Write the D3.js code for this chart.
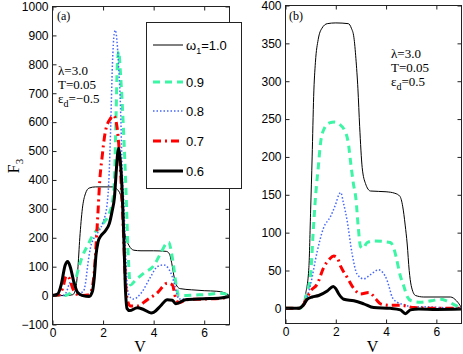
<!DOCTYPE html>
<html>
<head>
<meta charset="utf-8">
<script src="https://cdn.jsdelivr.net/npm/d3@7"></script>
<style>
body { margin: 0; background: #fff; }
svg { display: block; }
.axis text { font-family: "Liberation Sans", Arial, sans-serif; font-size: 12px; fill: #000; }
.axis line { stroke: #222; }
.serif { font-family: "Liberation Serif", "Times New Roman", serif; }
</style>
</head>
<body>
<svg width="463" height="354"></svg>
<script>
// curves, [V, F3]
var omegas = ["1.0", "0.9", "0.8", "0.7", "0.6"];

// panel (a), eps_d = -0.5
var a10 = [[0,0],[0.5,0],[0.8,3],[0.92,25],[1.0,90],[1.08,200],[1.18,300],[1.3,352],[1.45,372],[1.7,376],[2.4,376],[2.55,368],[2.68,350],[2.76,300],[2.82,236],[2.9,200],[3.02,174],[3.22,157],[3.5,155],[4.0,155],[4.5,153],[4.62,145],[4.72,110],[4.82,60],[4.92,33],[5.05,24],[5.5,20],[6.0,17],[6.5,15],[6.8,10],[7,0]];
var a09 = [[0,0],[0.5,0],[0.6,3],[0.75,15],[0.9,50],[1.05,100],[1.2,140],[1.4,175],[1.6,210],[1.85,235],[2.05,255],[2.25,285],[2.38,330],[2.45,400],[2.52,650],[2.56,790],[2.62,845],[2.68,780],[2.76,660],[2.83,530],[2.89,400],[2.93,300],[3.0,130],[3.08,37],[3.3,55],[3.6,77],[4.0,103],[4.3,150],[4.5,180],[4.6,185],[4.7,150],[4.8,95],[4.9,30],[5.0,0],[5.2,0],[5.6,2],[6.1,4],[6.6,8],[6.85,5],[7,-3]];
var a08 = [[0,0],[0.4,0],[0.55,12],[0.7,45],[0.8,40],[0.95,15],[1.1,10],[1.22,14],[1.3,40],[1.4,110],[1.5,165],[1.65,200],[1.85,225],[2.0,255],[2.16,316],[2.24,420],[2.3,580],[2.37,800],[2.44,905],[2.49,918],[2.55,880],[2.62,783],[2.69,650],[2.75,450],[2.82,320],[2.9,130],[2.97,20],[3.1,-8],[3.2,-12],[3.5,8],[3.85,60],[4.15,100],[4.4,106],[4.6,92],[4.72,70],[4.82,40],[4.92,5],[5.0,-12],[5.5,-12],[6.0,-10],[6.5,-9],[7,-5]];
var a07 = [[0,0],[0.25,2],[0.4,25],[0.55,68],[0.65,62],[0.8,25],[0.95,5],[1.2,0],[1.45,3],[1.55,20],[1.65,80],[1.72,170],[1.8,290],[1.87,400],[1.95,470],[2.09,567],[2.29,612],[2.42,623],[2.56,578],[2.64,500],[2.72,380],[2.8,230],[2.88,60],[2.96,-15],[3.08,-36],[3.35,-36],[3.75,-14],[4.14,9],[4.54,43],[4.74,37],[4.87,-8],[5.0,-25],[5.33,-14],[6,-12],[6.6,-10],[7,-5]];
var a06 = [[0,0],[0.2,5],[0.35,40],[0.5,105],[0.6,118],[0.7,100],[0.85,45],[1.0,10],[1.2,0],[1.45,-3],[1.58,15],[1.65,60],[1.72,140],[1.8,185],[1.9,205],[2.1,225],[2.25,250],[2.36,293],[2.45,340],[2.53,441],[2.58,495],[2.62,510],[2.67,475],[2.72,420],[2.77,330],[2.82,202],[2.88,32],[2.95,-45],[3.05,-52],[3.35,-42],[3.6,-48],[3.9,-60],[4.0,-58],[4.27,-36],[4.54,-14],[4.74,-16],[4.87,-28],[5.0,-25],[5.26,-14],[6,-11],[6.65,-8],[7,-3]];

// panel (b), eps_d = 0.5
var b10 = [[0,0],[0.5,0],[0.65,3],[0.8,19],[0.93,54],[1.0,130],[1.06,200],[1.12,280],[1.19,325],[1.3,355],[1.45,370],[1.66,376],[2.0,377],[2.5,376],[2.62,370],[2.72,358],[2.8,330],[2.88,290],[2.95,240],[3.05,186],[3.18,165],[3.38,155],[4.0,154],[4.35,152],[4.55,148],[4.66,135],[4.76,110],[4.84,85],[4.92,50],[5.0,30],[5.17,17],[5.5,15],[6.56,15],[6.8,10],[7,1]];
var b09 = [[0,0],[0.55,0],[0.7,5],[0.85,20],[1.0,45],[1.1,100],[1.2,150],[1.3,185],[1.4,220],[1.55,238],[1.75,245],[1.95,246],[2.15,243],[2.35,235],[2.5,218],[2.6,190],[2.7,165],[2.8,145],[2.9,105],[2.98,82],[3.07,79],[3.25,87],[3.5,89],[4.17,87],[4.3,80],[4.4,68],[4.55,45],[4.7,30],[4.85,15],[5.0,10],[5.37,8],[5.8,10],[6.16,12],[6.4,10],[6.7,5],[7,0]];
var b08 = [[0,0],[0.55,0],[0.7,5],[0.86,15],[1.0,32],[1.26,75],[1.5,105],[1.8,122],[2.0,138],[2.12,150],[2.2,153],[2.3,140],[2.45,116],[2.65,72],[2.85,45],[3.11,39],[3.4,45],[3.7,51],[3.85,48],[4.04,37],[4.15,25],[4.24,15],[4.45,8],[4.71,5],[5.0,2],[5.6,2],[6.2,1],[7,0]];
var b07 = [[0,0],[0.55,0],[0.7,4],[0.8,10],[1.0,23],[1.26,32],[1.52,54],[1.75,65],[1.92,69],[2.05,67],[2.2,55],[2.45,41],[2.72,26],[2.98,19],[3.31,21],[3.45,18],[3.6,12],[3.78,6],[4.17,4],[4.6,4],[5.1,1],[6,0],[7,0]];
var b06 = [[0,0],[0.5,0],[0.6,1],[0.75,6],[0.86,12],[1.06,15],[1.32,17],[1.66,23],[1.9,29],[2.0,26],[2.12,19],[2.32,12],[2.72,10],[3.11,6],[3.51,1],[4.17,0],[4.57,-2],[4.77,-7],[4.97,-2],[5.3,-1],[6,-1.5],[7,-1]];

var xTicks = [0, 2, 4, 6];
var yTicksA = d3.range(-100, 1001, 100);
var yTicksB = d3.range(0, 401, 50);

var colors = ["#000000", "#3cf5a5", "#4466ff", "#ff0000", "#000000"];
var widths = [1, 3, 1.5, 3, 3];
var dashes = [null, "7,5", "1.5,2", "8,4,2,4", null];

var svg = d3.select("svg");
var fmt = d3.format("d");

function panel(box, yMin, yMax, yTicks, data, tag) {
  var x = d3.scaleLinear().domain([0, 7]).range([box.left, box.right]);
  var y = d3.scaleLinear().domain([yMin, yMax]).range([box.bottom, box.top]);

  var clipId = "clip" + tag;
  svg.append("clipPath").attr("id", clipId)
    .append("rect")
    .attr("x", box.left).attr("y", box.top)
    .attr("width", box.right - box.left).attr("height", box.bottom - box.top);

  var line = d3.line()
    .x(function(d) { return x(d[0]); })
    .y(function(d) { return y(d[1]); })
    .curve(d3.curveMonotoneX);

  var g = svg.append("g").attr("clip-path", "url(#" + clipId + ")");
  data.forEach(function(s, i) {
    g.append("path")
      .attr("d", line(s))
      .attr("fill", "none")
      .attr("stroke", colors[i])
      .attr("stroke-width", widths[i])
      .attr("stroke-dasharray", dashes[i])
      .attr("stroke-linejoin", "round");
  });

  svg.append("g").attr("class", "axis")
    .attr("transform", "translate(0," + box.bottom + ")")
    .call(d3.axisBottom(x).tickValues(xTicks).tickFormat(fmt).tickSize(-4).tickPadding(4))
    .call(function(a) { a.select(".domain").remove(); });
  svg.append("g").attr("class", "axis")
    .attr("transform", "translate(0," + box.top + ")")
    .call(d3.axisTop(x).tickValues(xTicks).tickSize(-4).tickFormat(""))
    .call(function(a) { a.select(".domain").remove(); });
  svg.append("g").attr("class", "axis")
    .attr("transform", "translate(" + box.left + ",0)")
    .call(d3.axisLeft(y).tickValues(yTicks).tickFormat(fmt).tickSize(-4).tickPadding(4))
    .call(function(a) { a.select(".domain").remove(); });
  svg.append("g").attr("class", "axis")
    .attr("transform", "translate(" + box.right + ",0)")
    .call(d3.axisRight(y).tickValues(yTicks).tickSize(-4).tickFormat(""))
    .call(function(a) { a.select(".domain").remove(); });

  svg.append("rect")
    .attr("x", box.left).attr("y", box.top)
    .attr("width", box.right - box.left).attr("height", box.bottom - box.top)
    .attr("fill", "none").attr("stroke", "#222").attr("stroke-width", 1);

  svg.append("text").attr("class", "serif")
    .attr("x", (box.left + box.right) / 2 - 1).attr("y", 352)
    .attr("text-anchor", "middle").attr("font-size", 16)
    .text("V");

  return {x: x, y: y};
}

var boxA = {left: 52.5, right: 229.5, top: 6.5, bottom: 324.5};
var boxB = {left: 285.5, right: 461.5, top: 5.5, bottom: 323.5};

panel(boxA, -100, 1000, yTicksA, [a10, a09, a08, a07, a06], "a");
panel(boxB, -20, 400, yTicksB, [b10, b09, b08, b07, b06], "b");

// y label F3
var fl = svg.append("text").attr("class", "serif")
  .attr("transform", "translate(19,166) rotate(-90)")
  .attr("text-anchor", "middle").attr("font-size", 16);
fl.append("tspan").text("F");
fl.append("tspan").attr("font-size", 11).attr("dy", 4).text("3");

// annotations
function notes(x0, y0, label, lx, eps) {
  svg.append("text").attr("class", "serif").attr("x", lx).attr("y", label.y)
    .attr("font-size", 12).text(label.t);
  var rows = ["\u03bb=3.0", "T=0.05"];
  rows.forEach(function(r, i) {
    svg.append("text").attr("class", "serif")
      .attr("x", x0).attr("y", y0 + i * 14)
      .attr("font-size", 13).text(r);
  });
  var t = svg.append("text").attr("class", "serif")
    .attr("x", x0).attr("y", y0 + 28).attr("font-size", 13);
  t.append("tspan").text("\u03b5");
  t.append("tspan").attr("font-size", 10).attr("dy", 4).text("d");
  t.append("tspan").attr("dy", -4).text("=" + eps);
}
notes(58, 75, {t: "(a)", y: 20}, 57, "\u22120.5");
notes(391, 58, {t: "(b)", y: 20}, 289, "0.5");

// legend
var leg = svg.append("g");
leg.append("rect")
  .attr("x", 146.5).attr("y", 22.5).attr("width", 95).attr("height", 166)
  .attr("fill", "#fff").attr("stroke", "#222").attr("stroke-width", 1);
var rowY = [45, 82, 111, 141, 171];
omegas.forEach(function(w, i) {
  leg.append("line")
    .attr("x1", 153).attr("x2", 183).attr("y1", rowY[i]).attr("y2", rowY[i])
    .attr("stroke", colors[i]).attr("stroke-width", widths[i])
    .attr("stroke-dasharray", dashes[i]);
  var t = leg.append("text")
    .attr("x", 186).attr("y", rowY[i] + 4.5)
    .attr("font-family", "Liberation Sans, Arial, sans-serif")
    .attr("font-size", 13);
  if (i === 0) {
    t.append("tspan").text("\u03c9");
    t.append("tspan").attr("font-size", 9).attr("dy", 4).text("1");
    t.append("tspan").attr("dy", -4).text("=" + w);
  } else {
    t.text(w);
  }
});
</script>
</body>
</html>
